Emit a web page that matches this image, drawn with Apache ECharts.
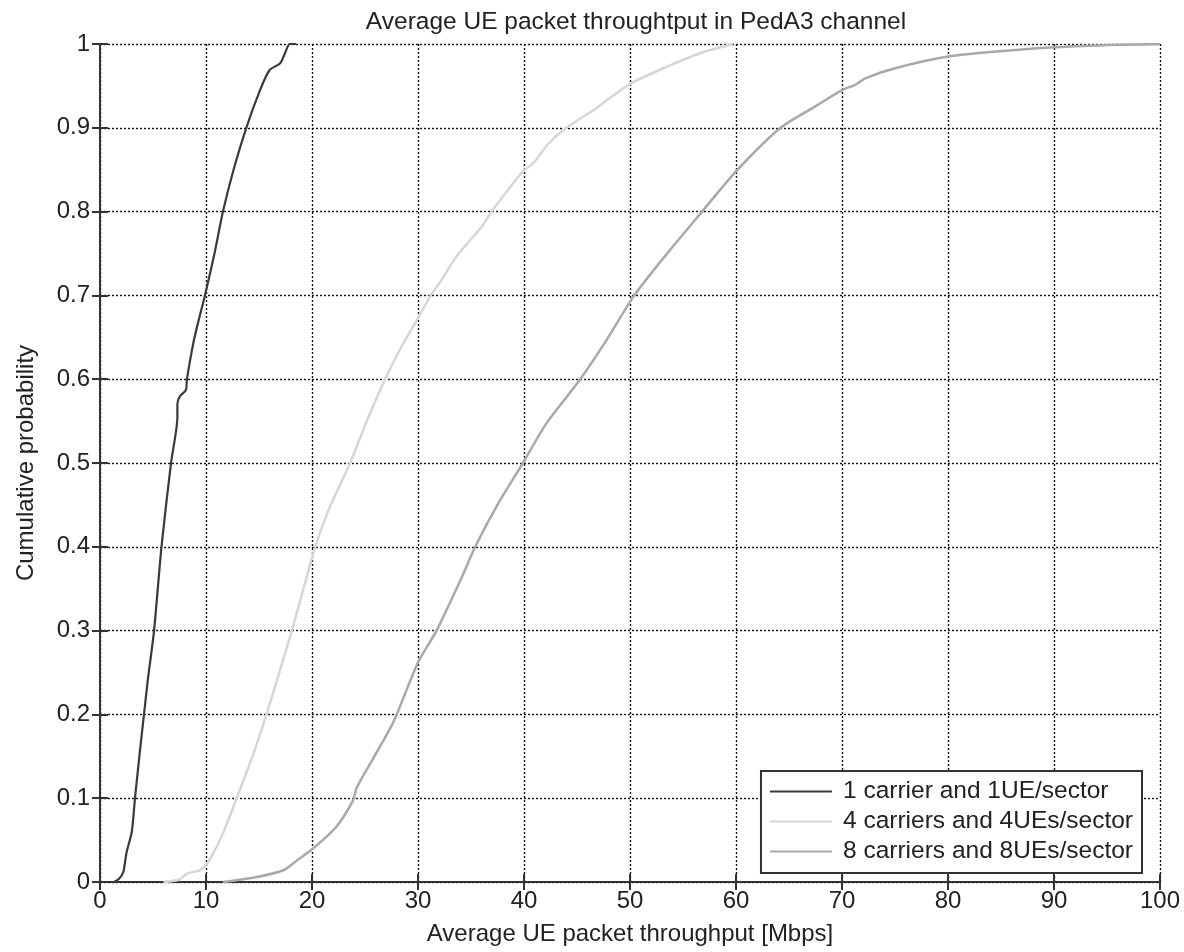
<!DOCTYPE html>
<html>
<head>
<meta charset="utf-8">
<script src="https://cdn.jsdelivr.net/npm/echarts@6/dist/echarts.min.js"></script>
<style>
  html, body { margin: 0; padding: 0; background: #fff; }
  #chart { width: 1184px; height: 952px; }
</style>
</head>
<body>
<div id="chart"></div>
<script>
// values: [throughput Mbps, cumulative probability]
const oneCarrier = [
  [1.3, 0], [1.8, 0.004], [2.2, 0.012], [2.5, 0.035], [3.0, 0.06], [3.3, 0.10],
  [3.8, 0.16], [4.15, 0.20], [4.5, 0.24], [5.1, 0.30], [5.8, 0.40], [6.7, 0.50],
  [7.3, 0.555], [7.3, 0.57], [7.55, 0.58], [8.1, 0.587], [8.2, 0.60], [8.8, 0.643],
  [9.3, 0.67], [9.9, 0.70], [10.8, 0.75], [11.6, 0.80], [12.6, 0.85], [13.8, 0.90],
  [15.1, 0.945], [16.0, 0.969], [17.0, 0.977], [17.45, 0.989], [17.9, 1.0], [18.5, 1.0]
];
const fourCarriers = [
  [6.0, 0], [7.5, 0.003], [8.2, 0.01], [9.4, 0.014], [10.1, 0.022], [11.0, 0.042],
  [11.6, 0.058], [12.9, 0.10], [14.5, 0.154], [15.7, 0.20], [16.8, 0.245], [18.1, 0.30],
  [19.2, 0.35], [20.3, 0.40], [21.7, 0.448], [23.6, 0.50], [25.2, 0.551], [26.9, 0.60],
  [28.45, 0.639], [30.0, 0.673], [31.2, 0.70], [32.2, 0.718], [33.6, 0.746], [36.0, 0.782],
  [36.95, 0.80], [38.5, 0.826], [39.9, 0.848], [40.9, 0.858], [42.3, 0.881], [44.0, 0.90],
  [46.8, 0.923], [47.5, 0.93], [50.1, 0.953], [53.5, 0.973], [56.6, 0.989], [59.7, 1.0]
];
const eightCarriers = [
  [11.6, 0], [14.8, 0.006], [17.3, 0.014], [18.6, 0.026], [20.1, 0.04], [22.3, 0.066],
  [23.9, 0.098], [24.2, 0.112], [25.8, 0.148], [27.4, 0.184], [28.0, 0.20], [30.0, 0.262],
  [31.75, 0.30], [34.0, 0.36], [35.4, 0.40], [37.4, 0.448], [39.9, 0.50], [42.1, 0.547],
  [45.3, 0.60], [47.8, 0.647], [50.4, 0.70], [53.5, 0.75], [56.8, 0.80], [60.0, 0.848],
  [64.2, 0.90], [67.4, 0.925], [70.0, 0.945], [71.2, 0.951], [72.2, 0.959], [75.0, 0.971],
  [80.0, 0.985], [85.5, 0.992], [90.0, 0.996], [96.0, 0.999], [100, 1.0]
];
const seriesNames = ['1 carrier and 1UE/sector', '4 carriers and 4UEs/sector', '8 carriers and 8UEs/sector'];

const font = "'Liberation Sans', Arial, sans-serif";
const axisColor = '#333';

const chart = echarts.init(document.getElementById('chart'));

const frameAxis = {
  min: 0,
  axisLine: { show: true, lineStyle: { color: axisColor, width: 2 } },
  axisTick: { show: true, inside: true, length: 8, lineStyle: { color: axisColor, width: 2 } },
  axisLabel: { show: false },
  splitLine: { show: false }
};

function curve(name, data, color, width, z) {
  return {
    name: name, type: 'line', symbol: 'none', showSymbol: false,
    smooth: 0.25,
    data: data,
    lineStyle: { color: color, width: width }, itemStyle: { color: color }, z: z
  };
}

const option = {
  animation: false,
  backgroundColor: '#fff',
  title: {
    text: 'Average UE packet throughtput in PedA3 channel',
    left: 631,
    top: 5,
    textAlign: 'center',
    textStyle: { fontFamily: font, fontSize: 24.5, fontWeight: 'normal', color: '#222' }
  },
  legend: {
    data: seriesNames,
    orient: 'vertical',
    right: 42,
    bottom: 79,
    padding: [8, 9, 9, 9],
    itemGap: 5,
    icon: 'rect',
    itemWidth: 62,
    itemHeight: 2,
    backgroundColor: '#fff',
    borderColor: axisColor,
    borderWidth: 2,
    borderRadius: 0,
    textStyle: { fontFamily: font, fontSize: 24.5, color: '#222', lineHeight: 24, padding: [0, 0, 0, 6] }
  },
  grid: { left: 100, right: 24, top: 44, bottom: 70 },
  xAxis: [
    {
      type: 'value',
      min: 0, max: 100, interval: 10,
      name: 'Average UE packet throughput [Mbps]',
      nameLocation: 'middle',
      nameGap: 40,
      nameTextStyle: { fontFamily: font, fontSize: 24, color: '#222' },
      axisLine: { show: true, onZero: false, lineStyle: { color: axisColor, width: 2 } },
      axisTick: { show: true, inside: true, length: 8, lineStyle: { color: axisColor, width: 2 } },
      axisLabel: { fontFamily: font, fontSize: 24, color: '#222', margin: 7 },
      splitLine: { show: true, lineStyle: { color: '#111', width: 1.4, type: [2, 2] } }
    },
    Object.assign({ type: 'value', position: 'top', max: 100, interval: 10 }, frameAxis)
  ],
  yAxis: [
    {
      type: 'value',
      min: 0, max: 1, interval: 0.1,
      name: 'Cumulative probability',
      nameLocation: 'middle',
      nameGap: 62,
      nameTextStyle: { fontFamily: font, fontSize: 24, color: '#222' },
      axisLine: { show: true, onZero: false, lineStyle: { color: axisColor, width: 2 } },
      axisTick: { show: true, inside: true, length: 8, lineStyle: { color: axisColor, width: 2 } },
      axisLabel: { fontFamily: font, fontSize: 24, color: '#222', margin: 10 },
      splitLine: { show: true, lineStyle: { color: '#111', width: 1.4, type: [2, 2] } }
    },
    Object.assign({ type: 'value', position: 'right', max: 1, interval: 0.1 }, frameAxis)
  ],
  series: [
    curve(seriesNames[0], oneCarrier, '#3a3a3a', 2.2, 5),
    curve(seriesNames[1], fourCarriers, '#d6d6d6', 2.5, 3),
    curve(seriesNames[2], eightCarriers, '#a9a9a9', 2.5, 4)
  ]
};

chart.setOption(option);
</script>
</body>
</html>
